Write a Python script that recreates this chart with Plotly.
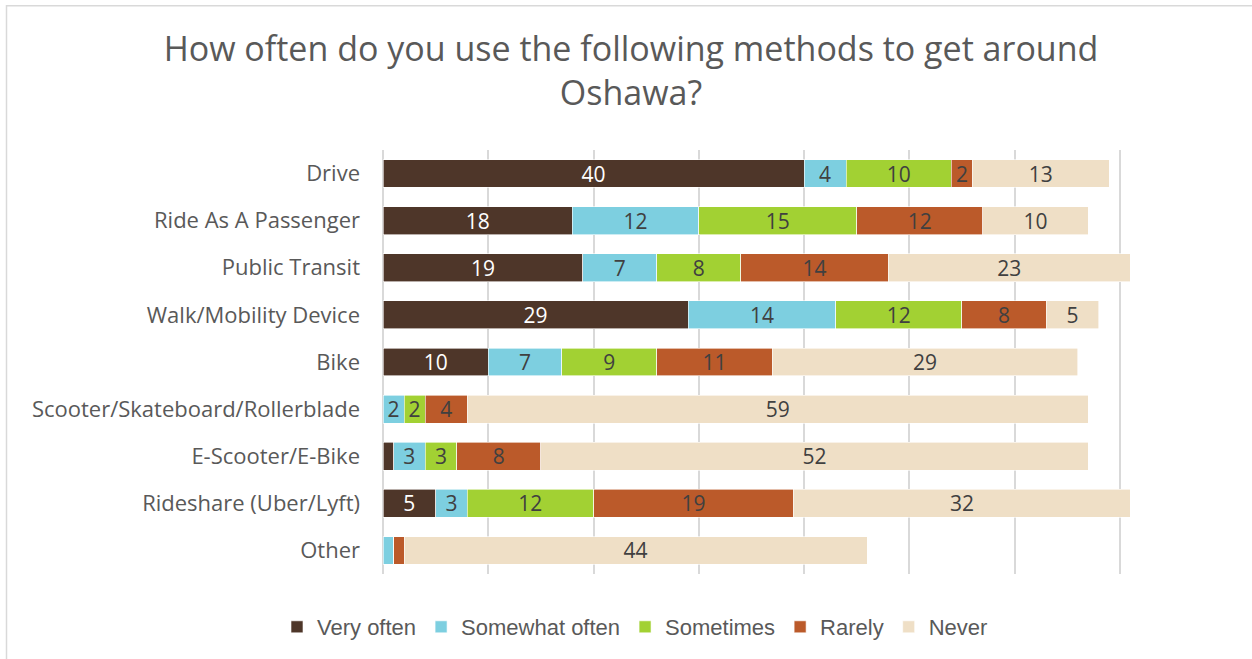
import plotly.graph_objects as go

# Survey categories (top to bottom as shown)
methods = [
    "Drive",
    "Ride As A Passenger",
    "Public Transit",
    "Walk/Mobility Device",
    "Bike",
    "Scooter/Skateboard/Rollerblade",
    "E-Scooter/E-Bike",
    "Rideshare (Uber/Lyft)",
    "Other",
]

very_often = [40, 18, 19, 29, 10, 0, 1, 5, 0]
somewhat_often = [4, 12, 7, 14, 7, 2, 3, 3, 1]
sometimes = [10, 15, 8, 12, 9, 2, 3, 12, 0]
rarely = [2, 12, 14, 8, 11, 4, 8, 19, 1]
never = [13, 10, 23, 5, 29, 59, 52, 32, 44]

series = [
    ("Very often", very_often, "#4E3629", "white"),
    ("Somewhat often", somewhat_often, "#7DCFE0", "#404040"),
    ("Sometimes", sometimes, "#A2D133", "#404040"),
    ("Rarely", rarely, "#BB5A2A", "#404040"),
    ("Never", never, "#EFDFC6", "#404040"),
]

FONT = "Open Sans"

fig = go.Figure()
for name, vals, color, txtcolor in series:
    labels = [str(v) if v > 1 else "" for v in vals]
    fig.add_trace(
        go.Bar(
            name=name,
            y=methods,
            x=vals,
            orientation="h",
            marker=dict(color=color, line=dict(color="white", width=0.6)),
            text=labels,
            textposition="inside",
            insidetextanchor="middle",
            textangle=0,
            constraintext="none",
            textfont=dict(family=FONT, size=21, color=txtcolor),
            hoverinfo="skip",
        )
    )

W, H = 1252, 659
L, R, T, B = 383, 27, 150, 84
pw, ph = W - L - R, H - T - B


def px_x(x):
    return (x - L) / pw


def px_y(y):
    return (H - B - y) / ph


fig.update_layout(
    width=W,
    height=H,
    barmode="stack",
    bargap=0.41,
    paper_bgcolor="white",
    plot_bgcolor="white",
    margin=dict(l=L, r=R, t=T, b=B, pad=0),
    font=dict(family=FONT, color="#595959"),
    title=dict(
        text="How often do you use the following methods to get around<br>Oshawa?",
        font=dict(family=FONT, size=34, color="#595959"),
        x=px_x(631),
        xref="paper",
        xanchor="center",
        y=1 - 61 / H,
        yanchor="middle",
    ),
    xaxis=dict(
        range=[0, 80],
        dtick=10,
        showticklabels=False,
        showgrid=True,
        gridcolor="#D9D9D9",
        gridwidth=1.5,
        zeroline=True,
        zerolinecolor="#D9D9D9",
        zerolinewidth=1.5,
        showline=False,
        fixedrange=True,
    ),
    yaxis=dict(
        categoryorder="array",
        categoryarray=methods[::-1],
        tickfont=dict(family=FONT, size=22, color="#595959"),
        ticks="",
        ticklabelstandoff=22,
        showgrid=False,
        showline=False,
        fixedrange=True,
    ),
    legend=dict(
        orientation="h",
        x=px_x(635),
        xanchor="center",
        y=px_y(627),
        yanchor="middle",
        font=dict(family="Liberation Sans", size=22, color="#595959"),
        itemwidth=30,
        traceorder="normal",
        bgcolor="rgba(0,0,0,0)",
    ),
    showlegend=True,
    shapes=[
        dict(
            type="rect",
            xref="paper",
            yref="paper",
            x0=px_x(6.5),
            x1=px_x(W + 20),
            y0=px_y(H + 20),
            y1=px_y(5.5),
            line=dict(color="#D9D9D9", width=1.5),
            fillcolor="rgba(0,0,0,0)",
            layer="below",
        )
    ],
)

fig.write_html("out.html")
